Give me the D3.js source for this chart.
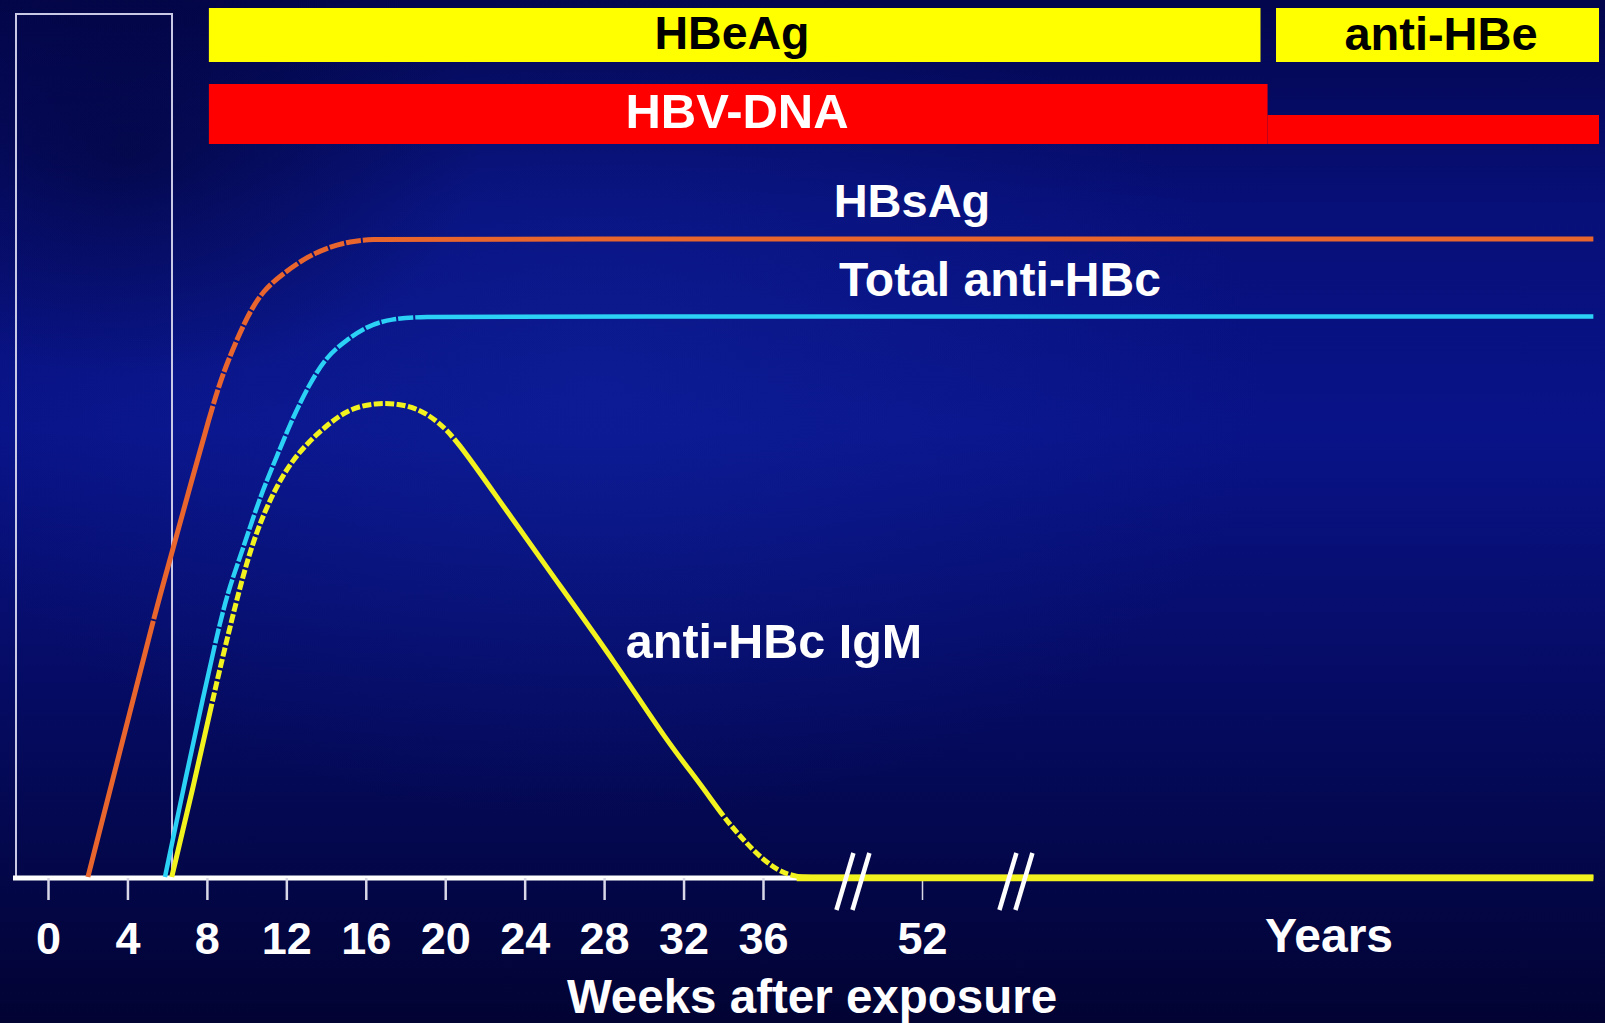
<!DOCTYPE html>
<html>
<head>
<meta charset="utf-8">
<script src="https://cdn.jsdelivr.net/npm/d3@7"></script>
<style>
  html, body { margin: 0; padding: 0; background: #03054a; overflow: hidden; }
  svg { display: block; }
  text { font-family: "Liberation Sans", Arial, sans-serif; font-weight: bold; }
</style>
</head>
<body>
<svg id="chart" width="1605" height="1023"></svg>
<script>
// ---------------- DATA ----------------
const tickWeeks = [0, 4, 8, 12, 16, 20, 24, 28, 32, 36, 52];
const xAxisTitle = "Weeks after exposure";
const yearsLabel = "Years";
const breakWeeks = [45.05, 58.66];

// x domain: weeks (piecewise, with breaks); the far end stands for "Years"
const xDomain = [0, 36, 52, 100];

// HBsAg (relative level 0-100)
const hbsagWeeks  = [2.01, 4.13, 5.39, 6.24, 8.32, 9.0, 10.0, 10.84, 11.85, 13.03, 14.2, 15.2, 16.3, 18.0, 99.6];
const hbsagValues = [0,    25.9, 41.4, 50.8, 74.5, 80.5, 87.8, 92.0, 94.6,  97.2,  98.8, 99.6, 100,  100,  100];

// Total anti-HBc
const antiHBcWeeks  = [5.89, 6.98, 7.82, 8.49, 9.08, 9.75, 10.67, 11.52, 12.35, 13.19, 14.03, 15.04, 16.05, 17.22, 19.07, 21.0, 99.6];
const antiHBcValues = [0,    16.25, 28.3, 37.7, 45.0, 50.8, 59.6,  65.9,  72.2,  77.4,  81.6,  84.2,  86.3,  87.5,  87.85, 87.85, 87.85];

// anti-HBc IgM
const igmWeeks  = [6.23, 7.32, 8.32, 9.16, 10.0, 10.84, 11.85, 12.85, 14.03, 15.2, 16.55, 17.56, 18.56, 19.57, 20.58, 22.59, 25.28, 28.63, 31.15, 32.83, 34.0, 35.01, 36.03, 37.71, 39.39, 41.0, 99.6];
const igmValues = [0,    14.15, 28.26, 39.2, 49.5, 57.0,  63.3,  67.4,  70.8,  73.5, 74.3,  74.2,  73.5,  71.6,  68.5,  59.6,  47.8,  33.3,  21.3,  14.7,  9.45, 5.8,   2.66,  0.83,  0,     0,    0];

// Marker bars (start / end on the x domain)
const barNames  = ["HBeAg", "anti-HBe", "HBV-DNA", "HBV-DNA low"];
const barStarts = [8.1, 77.1, 8.1, 76.5];
const barEnds   = [76.0, 100, 76.5, 100];

// Line labels
const lineLabels = ["HBsAg", "Total anti-HBc", "anti-HBc IgM"];

// ---------------- LAYOUT ----------------
const svg = d3.select("#chart");
const W = 1605, H = 1023;

const x = d3.scaleLinear().domain(xDomain).range([48, 763, 922, 1599]);
const y = d3.scaleLinear().domain([0, 100]).range([877, 239]);

// ---------------- BACKGROUND ----------------
const defs = svg.append("defs");
const lg = defs.append("linearGradient").attr("id", "bg").attr("x1", 0).attr("y1", 0).attr("x2", 0).attr("y2", 1);
[["0%", "#03064c"], ["20%", "#070f78"], ["42%", "#091388"], ["68%", "#050b62"], ["100%", "#020333"]]
  .forEach(([o, c]) => lg.append("stop").attr("offset", o).attr("stop-color", c));
const rg = defs.append("radialGradient").attr("id", "glow")
  .attr("cx", 0.37).attr("cy", 0.38).attr("r", 0.42);
rg.append("stop").attr("offset", "0%").attr("stop-color", "#1530b4").attr("stop-opacity", 0.32);
rg.append("stop").attr("offset", "100%").attr("stop-color", "#1530b4").attr("stop-opacity", 0);
const rg2 = defs.append("radialGradient").attr("id", "dark")
  .attr("cx", 0.08).attr("cy", 0.15).attr("r", 0.22);
rg2.append("stop").attr("offset", "0%").attr("stop-color", "#020330").attr("stop-opacity", 0.55);
rg2.append("stop").attr("offset", "100%").attr("stop-color", "#020330").attr("stop-opacity", 0);

svg.append("rect").attr("width", W).attr("height", H).attr("fill", "url(#bg)");
svg.append("rect").attr("width", W).attr("height", H).attr("fill", "url(#glow)");
svg.append("rect").attr("width", W).attr("height", H).attr("fill", "url(#dark)");

// ---------------- INCUBATION BOX ----------------
svg.append("rect")
  .attr("x", 16).attr("y", 14)
  .attr("width", 172 - 16).attr("height", y(0) - 14)
  .attr("fill", "none").attr("stroke", "#c9c9e6").attr("stroke-width", 2);

// ---------------- BARS ----------------
const barY = [8, 8, 84, 115];
const barH = [54, 54, 60, 29];
const barFill = ["#ffff00", "#ffff00", "#ff0000", "#ff0000"];
svg.append("g").selectAll("rect").data(barNames).join("rect")
  .attr("x", (d, i) => x(barStarts[i]))
  .attr("y", (d, i) => barY[i])
  .attr("width", (d, i) => x(barEnds[i]) - x(barStarts[i]))
  .attr("height", (d, i) => barH[i])
  .attr("fill", (d, i) => barFill[i]);

svg.append("text").attr("x", 732).attr("y", 49).attr("text-anchor", "middle")
  .attr("font-size", 46.5).attr("fill", "#000").text(barNames[0]);
svg.append("text").attr("x", 1441).attr("y", 50).attr("text-anchor", "middle")
  .attr("font-size", 47).attr("fill", "#000").text(barNames[1]);
svg.append("text").attr("x", 737).attr("y", 128).attr("text-anchor", "middle")
  .attr("font-size", 49).attr("fill", "#fff").text(barNames[2]);

// ---------------- AXIS ----------------
const axisG = svg.append("g").attr("transform", `translate(0,${y(0) + 1})`);
axisG.append("line").attr("x1", 13).attr("x2", 1592).attr("y1", 0).attr("y2", 0)
  .attr("stroke", "#ffffff").attr("stroke-width", 5);
const xAxis = d3.axisBottom(x).tickValues(tickWeeks).tickSize(22).tickPadding(22).tickFormat(d3.format("d"));
const ax = svg.append("g").attr("transform", `translate(0,${y(0) + 1})`).call(xAxis);
ax.select(".domain").remove();
ax.selectAll(".tick line").attr("stroke", "#d8d8e8").attr("stroke-width", 2.5);
ax.selectAll(".tick text").attr("fill", "#fff").attr("font-size", 45)
  .attr("font-family", "Liberation Sans, Arial, sans-serif").attr("font-weight", "bold")
  .attr("dy", "0.71em");
ax.selectAll(".tick").filter(d => d === 52).select("line")
  .attr("stroke-width", 1.5).attr("y1", 3).attr("y2", 22);

// ---------------- LINES ----------------
const line = d3.line().x(d => x(d[0])).y(d => y(d[1])).curve(d3.curveBasis);

function lengthAtX(node, tx) {
  let lo = 0, hi = node.getTotalLength();
  for (let k = 0; k < 40; k++) {
    const mid = (lo + hi) / 2;
    if (node.getPointAtLength(mid).x < tx) lo = mid; else hi = mid;
  }
  return lo;
}
function dashed(path, ranges) {
  const node = path.node();
  const total = node.getTotalLength();
  const arr = [];
  let pos = 0;
  ranges.forEach(([wa, wb, dash, gap]) => {
    const a = lengthAtX(node, x(wa)), b = lengthAtX(node, x(wb));
    let p = a;
    arr.push(a - pos);            // solid run up to the dashed section
    while (p + gap + dash < b) { arr.push(gap, dash); p += gap + dash; }
    arr.push(gap);
    p += gap;
    pos = p;
  });
  arr.push(total - pos + 10, 0);
  path.attr("stroke-dasharray", arr.join(" "));
}

function drawSeries(weeks, values, color, width, ranges) {
  const data = weeks.map((w, i) => [w, values[i]]);
  const p = svg.append("path").datum(data).attr("d", line)
    .attr("fill", "none").attr("stroke", color).attr("stroke-width", width)
    .attr("stroke-linecap", "butt").attr("stroke-linejoin", "round");
  if (ranges) dashed(p, ranges);
  return data;
}

drawSeries(hbsagWeeks, hbsagValues, "#e8652e", 5, [[5.3, 5.5, 14, 2], [8.3, 16.3, 15, 2]]);
drawSeries(antiHBcWeeks, antiHBcValues, "#2bd2f5", 4.5, [[8.4, 19.1, 15, 2]]);
const igmData = drawSeries(igmWeeks, igmValues, "#f2f21e", 5, [[8.25, 20.6, 9, 2.5], [34.0, 39.4, 8.5, 2.5]]);

// IgM tail lying on the axis (thicker stroke, as in the source)
const igmTail = igmData.filter(d => d[1] === 0 && d[0] > 30);
svg.append("path").datum(igmTail).attr("d", d3.line().x(d => x(d[0])).y(d => y(d[1]) + 1))
  .attr("fill", "none").attr("stroke", "#f2f21e").attr("stroke-width", 6.5);

// ---------------- BREAK MARKS ----------------
const brk = svg.append("g");
breakWeeks.forEach(w => {
  [-8, 8].forEach(off => {
    brk.append("line")
      .attr("x1", x(w) + off - 8.5).attr("y1", 910)
      .attr("x2", x(w) + off + 8.5).attr("y2", 853)
      .attr("stroke", "#ffffff").attr("stroke-width", 4.5);
  });
});

// ---------------- LABELS ----------------
svg.append("text").attr("x", 912).attr("y", 217).attr("text-anchor", "middle")
  .attr("font-size", 47).attr("fill", "#fff").text(lineLabels[0]);
svg.append("text").attr("x", 1000).attr("y", 296).attr("text-anchor", "middle")
  .attr("font-size", 48).attr("fill", "#fff").text(lineLabels[1]);
svg.append("text").attr("x", 774).attr("y", 658).attr("text-anchor", "middle")
  .attr("font-size", 48.5).attr("fill", "#fff").text(lineLabels[2]);

svg.append("text").attr("x", 1329).attr("y", 952).attr("text-anchor", "middle")
  .attr("font-size", 48).attr("fill", "#fff").text(yearsLabel);
svg.append("text").attr("x", 812).attr("y", 1013).attr("text-anchor", "middle")
  .attr("font-size", 47.5).attr("fill", "#fff").text(xAxisTitle);
</script>
</body>
</html>
